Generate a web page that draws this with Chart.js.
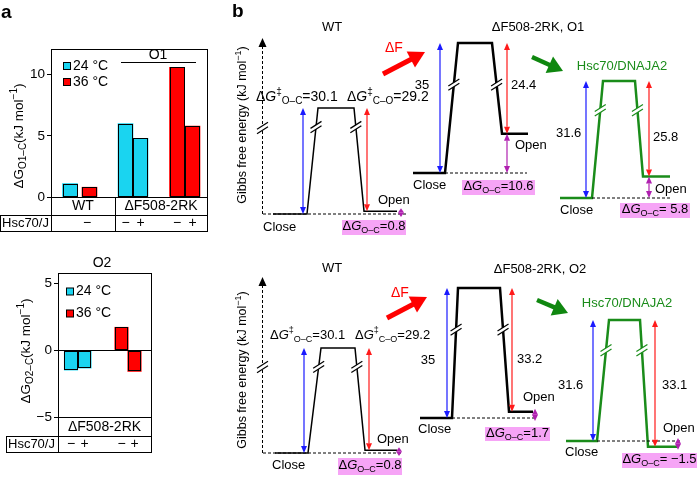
<!DOCTYPE html>
<html>
<head>
<meta charset="utf-8">
<script src="https://cdn.jsdelivr.net/npm/chart.js@4"></script>
<style>
  body { margin: 0; background: #fff; }
  #page { position: relative; width: 697px; height: 479px; overflow: hidden; }
  canvas { position: absolute; }
</style>
</head>
<body>
<div id="page">
  <canvas id="a1" width="215" height="250" style="left:0;top:0"></canvas>
  <canvas id="a2" width="215" height="229" style="left:0;top:250px"></canvas>
  <canvas id="b1" width="467" height="240" style="left:230px;top:0"></canvas>
  <canvas id="b2" width="467" height="239" style="left:230px;top:240px"></canvas>
</div>
<script>
// ---- panel a data (kJ/mol) ----
const tempLabels = ['24 °C', '36 °C'];
const groupsA = ['WT', 'ΔF508-2RK'];
const hscLabel = 'Hsc70/J';
const o1Cold = [1.1, 6.0, 4.8];    // WT, ΔF508-2RK −J, ΔF508-2RK +J
const o1Warm = [0.8, 10.6, 5.8];
const o1Hsc = ['−', '−', '+', '−', '+'];
const o1Ticks = [0, 5, 10];
const o2Cold = [-1.5, -1.35];      // ΔF508-2RK −J, +J
const o2Warm = [1.7, -1.6];
const o2Hsc = ['−', '+', '−', '+'];
const o2Ticks = [-5, 0, 5];

// ---- panel b data (kJ/mol) ----
const titlesO1 = ['WT', 'ΔF508-2RK, O1', 'Hsc70/DNAJA2'];
const titlesO2 = ['WT', 'ΔF508-2RK, O2', 'Hsc70/DNAJA2'];
const barrierOC_O1 = [30.1, 35, 31.6];
const barrierCO_O1 = [29.2, 24.4, 25.8];
const dG_O1 = [0.8, 10.6, 5.8];
const barrierOC_O2 = [30.1, 35, 31.6];
const barrierCO_O2 = [29.2, 33.2, 33.1];
const dG_O2 = [0.8, 1.7, -1.5];

const FONT = '"Liberation Sans", Arial, Helvetica, sans-serif';
const CYAN = '#1ad4f0', RED = '#ff0000', BLUE = '#1a1aff', ARED = '#ff1a1a';
const MAG = '#b020b0', BOXC = '#f6a4f6', GREEN = '#1a8c1a';

const fmt = v => v < 0 ? '−' + Math.abs(v) : String(v);

function txt(ctx, s, x, y, o = {}) {
  ctx.font = (o.bold ? 'bold ' : '') + (o.size || 13) + 'px ' + FONT;
  ctx.fillStyle = o.color || '#000';
  ctx.textAlign = o.align || 'left';
  ctx.textBaseline = 'middle';
  ctx.fillText(s, x, y);
}

function rich(ctx, parts, x, y, o = {}) {
  const size = o.size || 13, small = Math.round(size * 0.72);
  const fontOf = p => (p.i ? 'italic ' : '') + (p.sub || p.sup ? small : size) + 'px ' + FONT;
  const widths = parts.map(p => { ctx.font = fontOf(p); return ctx.measureText(p.t).width; });
  const total = widths.reduce((s, w) => s + w, 0);
  let cx = o.align === 'center' ? x - total / 2 : o.align === 'right' ? x - total : x;
  ctx.fillStyle = o.color || '#000';
  ctx.textAlign = 'left';
  ctx.textBaseline = 'middle';
  parts.forEach((p, j) => {
    ctx.font = fontOf(p);
    ctx.fillText(p.t, cx, y + (p.sub ? size * 0.32 : p.sup ? -size * 0.32 : 0));
    cx += widths[j];
  });
}

function rotRich(ctx, parts, x, y, size) {
  ctx.save();
  ctx.translate(x, y);
  ctx.rotate(-Math.PI / 2);
  rich(ctx, parts, 0, 0, { align: 'center', size });
  ctx.restore();
}

function seg(ctx, x1, y1, x2, y2) {
  ctx.beginPath(); ctx.moveTo(x1, y1); ctx.lineTo(x2, y2); ctx.stroke();
}

function vArrow(ctx, x, y1, y2, color) {
  let top = Math.min(y1, y2), bot = Math.max(y1, y2);
  if (bot - top < 8) { top -= 3; bot += 3; }
  const h = Math.min(7, (bot - top) / 2), w = 3;
  ctx.strokeStyle = color; ctx.fillStyle = color; ctx.lineWidth = 1.2; ctx.setLineDash([]);
  seg(ctx, x, top + h, x, bot - h);
  ctx.beginPath(); ctx.moveTo(x, top); ctx.lineTo(x - w, top + h); ctx.lineTo(x + w, top + h); ctx.fill();
  ctx.beginPath(); ctx.moveTo(x, bot); ctx.lineTo(x - w, bot - h); ctx.lineTo(x + w, bot - h); ctx.fill();
}

function blockArrow(ctx, x1, y1, x2, y2, color, lw, hl, hw) {
  const a = Math.atan2(y2 - y1, x2 - x1);
  const bx = x2 - hl * Math.cos(a), by = y2 - hl * Math.sin(a);
  ctx.strokeStyle = color; ctx.fillStyle = color; ctx.lineWidth = lw; ctx.setLineDash([]);
  seg(ctx, x1, y1, bx + Math.cos(a), by + Math.sin(a));
  ctx.beginPath();
  ctx.moveTo(x2, y2);
  ctx.lineTo(bx + hw * Math.sin(a), by - hw * Math.cos(a));
  ctx.lineTo(bx - hw * Math.sin(a), by + hw * Math.cos(a));
  ctx.closePath(); ctx.fill();
}

function breakMark(ctx, x, y, color) {
  const dx = 5.5, dy = 3.5, g = 2.2;
  ctx.setLineDash([]);
  ctx.fillStyle = '#fff';
  ctx.beginPath();
  ctx.moveTo(x - dx, y + dy - g); ctx.lineTo(x + dx, y - dy - g);
  ctx.lineTo(x + dx, y - dy + g); ctx.lineTo(x - dx, y + dy + g);
  ctx.closePath(); ctx.fill();
  ctx.strokeStyle = color; ctx.lineWidth = 1.2;
  [-g, g].forEach(o => seg(ctx, x - dx, y + dy + o, x + dx, y - dy + o));
}

const yTitleA = sub => [{ t: 'Δ' }, { t: 'G' }, { t: sub, sub: 1 }, { t: '(kJ mol' }, { t: '−1', sup: 1 }, { t: ')' }];
const dgLabel = (sub, v) => [{ t: 'Δ' }, { t: 'G', i: 1 }, { t: '‡', sup: 1 }, { t: sub, sub: 1 }, { t: '=' + fmt(v) }];
const dgBox = (v, sp) => [{ t: 'Δ' }, { t: 'G', i: 1 }, { t: 'O–C', sub: 1 }, { t: '=' + sp + fmt(v) }];

// ---------- panel a ----------
// outline every bar in black (uses the bar elements Chart.js laid out)
const barOutline = {
  id: 'barOutline',
  afterDatasetsDraw(c) {
    const ctx = c.ctx;
    ctx.save();
    ctx.strokeStyle = '#000'; ctx.lineWidth = 1;
    c.data.datasets.forEach((ds, i) => {
      c.getDatasetMeta(i).data.forEach(el => {
        const l = Math.round(el.x - el.width / 2) + 0.5, r = Math.round(el.x + el.width / 2) - 0.5;
        const t = Math.round(Math.min(el.y, el.base)) + 0.5, b = Math.round(Math.max(el.y, el.base)) - 0.5;
        ctx.strokeRect(l, t, r - l, b - t);
      });
    });
    ctx.restore();
  }
};

function barChart(id, cfg) {
  const bar = { borderWidth: 0, grouped: false, barThickness: cfg.bw };
  return new Chart(document.getElementById(id), {
    type: 'bar',
    data: {
      datasets: [
        { ...bar, label: tempLabels[0], data: cfg.cold.map((v, i) => ({ x: cfg.coldX[i], y: v })), backgroundColor: CYAN },
        { ...bar, label: tempLabels[1], data: cfg.warm.map((v, i) => ({ x: cfg.warmX[i], y: v })), backgroundColor: RED }
      ]
    },
    options: {
      responsive: false, animation: false, events: [],
      layout: { padding: cfg.pad },
      plugins: { legend: { display: false }, tooltip: { enabled: false } },
      scales: {
        x: { type: 'linear', min: 0, max: cfg.xMax, offset: false, display: false },
        y: {
          min: cfg.yMin, max: cfg.yMax,
          afterFit: s => { s.width = cfg.axisW; },
          afterBuildTicks: s => { s.ticks = cfg.ticks.map(v => ({ value: v })); },
          ticks: { color: '#000', font: { family: FONT, size: 13.5 }, padding: 2, callback: v => fmt(v) },
          grid: { drawOnChartArea: false, color: '#000', tickLength: 4 },
          border: { color: '#000' }
        }
      }
    },
    plugins: [barOutline, cfg.deco]
  });
}

function legendA(ctx, x, y1, y2) {
  ctx.lineWidth = 1; ctx.strokeStyle = '#000';
  [[y1, CYAN], [y2, RED]].forEach(([y, c], i) => {
    ctx.fillStyle = c; ctx.fillRect(x, y - 3.5, 7, 7); ctx.strokeRect(x + 0.5, y - 3.5, 7, 7);
    txt(ctx, tempLabels[i], x + 10, y, { size: 14 });
  });
}

barChart('a1', {
  cold: o1Cold, warm: o1Warm, coldX: [19, 74.5, 89.5], warmX: [38.5, 126, 141.5],
  xMax: 156, yMin: 0, yMax: 12.1, ticks: o1Ticks, axisW: 51, bw: 15,
  pad: { left: 0, right: 8, top: 49, bottom: 53 },
  deco: {
    id: 'decoA1',
    afterDraw(c) {
      const ctx = c.ctx, a = c.chartArea, xs = c.scales.x;
      ctx.save();
      ctx.strokeStyle = '#000'; ctx.lineWidth = 1;
      ctx.strokeRect(a.left + 0.5, a.top + 0.5, a.right - a.left, a.bottom - a.top);
      const r1 = 215.5, r2 = 231.5;
      seg(ctx, a.left + 0.5, a.bottom, a.left + 0.5, r2);
      seg(ctx, a.right + 0.5, a.bottom, a.right + 0.5, r2);
      seg(ctx, 115.5, a.bottom, 115.5, r2);
      seg(ctx, 0, r1, a.right + 1, r1);
      seg(ctx, 0, r2, a.right + 1, r2);
      seg(ctx, 0.5, r1, 0.5, r2);
      txt(ctx, 'a', 1, 13, { bold: true, size: 19 });
      txt(ctx, groupsA[0], 83, 206.5, { align: 'center', size: 14 });
      txt(ctx, groupsA[1], 161, 206.5, { align: 'center', size: 14 });
      txt(ctx, hscLabel, 2, 223.5, { size: 13 });
      const sx = [87, xs.getPixelForValue(74.5), xs.getPixelForValue(89.5), xs.getPixelForValue(126), xs.getPixelForValue(141.5)];
      o1Hsc.forEach((s, i) => txt(ctx, s, sx[i], 223.5, { align: 'center', size: 14 }));
      legendA(ctx, 63, 66, 82);
      seg(ctx, 121, 62.5, 196, 62.5);
      txt(ctx, 'O1', 158, 55, { align: 'center', size: 14 });
      rotRich(ctx, yTitleA('O1–C'), 19, 136, 13.5);
      ctx.restore();
    }
  }
});

barChart('a2', {
  cold: o2Cold, warm: o2Warm, coldX: [13, 26.5], warmX: [63.5, 76.5],
  xMax: 93, yMin: -5, yMax: 5.75, ticks: o2Ticks, axisW: 58, bw: 13.5,
  pad: { left: 0, right: 64, top: 23, bottom: 62 },
  deco: {
    id: 'decoA2',
    afterDraw(c) {
      const ctx = c.ctx, a = c.chartArea, xs = c.scales.x, oy = 250;
      ctx.save();
      ctx.translate(0, -oy);
      ctx.strokeStyle = '#000'; ctx.lineWidth = 1;
      const top = a.top + oy, bot = a.bottom + oy;
      ctx.strokeRect(a.left + 0.5, top + 0.5, a.right - a.left, bot - top);
      const zero = c.scales.y.getPixelForValue(0) + oy;
      seg(ctx, a.left, Math.round(zero) + 0.5, a.right, Math.round(zero) + 0.5);
      const r1 = 436.5, r2 = 452.5;
      seg(ctx, a.left + 0.5, bot, a.left + 0.5, r2);
      seg(ctx, a.right + 0.5, bot, a.right + 0.5, r2);
      seg(ctx, 6, r1, a.right + 1, r1);
      seg(ctx, 6, r2, a.right + 1, r2);
      seg(ctx, 6.5, r1, 6.5, r2);
      txt(ctx, groupsA[1], (a.left + a.right) / 2, 427, { align: 'center', size: 14 });
      txt(ctx, hscLabel, 8, 444.5, { size: 13 });
      const sx = [13, 26.5, 63.5, 76.5].map(v => xs.getPixelForValue(v));
      o2Hsc.forEach((s, i) => txt(ctx, s, sx[i], 444.5, { align: 'center', size: 14 }));
      legendA(ctx, 66, 291.5, 313.5);
      txt(ctx, 'O2', 102, 263, { align: 'center', size: 14 });
      rotRich(ctx, yTitleA('O2–C'), 26, 351, 13.5);
      ctx.restore();
    }
  }
});

// ---------- panel b ----------
const rowO1 = {
  top: 0, H: 240, letter: true, labelSize: 14,
  axis: { x: 262, y0: 214, tip: 38, brk: 128 }, ytitle: { x: 243, y: 125 },
  dF: { x1: 383, y1: 74, x2: 425, y2: 52, tx: 385, ty: 48 },
  green: { x1: 532, y1: 57, x2: 563, y2: 71 },
  diagrams: [
    { xs: [273, 307, 318, 354, 364, 397], base: 214, peak: 108, dash: [263, 407], blue: 303, red: 367, mag: 401,
      lw: 1.5, color: '#000', brk: 0.82, title: { x: 332, y: 27 }, oc: { x: 256, y: 97 }, co: { x: 347, y: 97 },
      rich: true, open: { x: 378, dy: -11 }, close: { x: 263, y: 227 }, box: [342, 406, 220, 235], sp: '' },
    { xs: [413, 445, 458, 492, 502, 528], base: 173, peak: 43, dash: [445, 527], blue: 440, red: 507, mag: 507,
      lw: 2.5, color: '#000', brk: 0.68, title: { x: 538, y: 27 }, oc: { x: 422, y: 85, align: 'center' }, co: { x: 511, y: 85 },
      open: { x: 515, dy: 12 }, close: { x: 413, y: 185 }, box: [462, 535, 180, 195], sp: '' },
    { xs: [560, 592, 603, 635, 643, 670], base: 198, peak: 81, dash: [592, 670], blue: 586, red: 649, mag: 649,
      lw: 2.5, color: GREEN, brk: 0.75, title: { x: 622, y: 66 }, oc: { x: 556, y: 133 }, co: { x: 653, y: 137 },
      open: { x: 655, dy: 13 }, close: { x: 560, y: 210 }, box: [620, 690, 203, 218], sp: ' ' }
  ]
};
const rowO2 = {
  top: 240, H: 239, letter: false, labelSize: 13,
  axis: { x: 262, y0: 453, tip: 277, brk: 367 }, ytitle: { x: 243, y: 370 },
  dF: { x1: 387, y1: 318, x2: 427, y2: 297, tx: 391, ty: 293 },
  green: { x1: 537, y1: 300, x2: 568, y2: 313 },
  diagrams: [
    { xs: [275, 308, 321, 355, 365, 397], base: 453, peak: 348, dash: [263, 403], blue: 304, red: 369, mag: 399,
      lw: 1.5, color: '#000', brk: 0.82, title: { x: 332, y: 268 }, oc: { x: 270, y: 335 }, co: { x: 355, y: 335 },
      rich: true, open: { x: 377, dy: -11 }, close: { x: 272, y: 465 }, box: [338, 402, 458, 475], sp: '' },
    { xs: [420, 452, 458, 500, 509, 533], base: 418, peak: 288, dash: [452, 535], blue: 447, red: 512, mag: 535,
      lw: 2.5, color: '#000', brk: 0.68, title: { x: 540, y: 269 }, oc: { x: 428, y: 360, align: 'center' }, co: { x: 517, y: 359 },
      open: { x: 523, dy: -14 }, close: { x: 418, y: 429 }, box: [485, 550, 427, 441], sp: '' },
    { xs: [566, 597, 609, 640, 648, 677], base: 441, peak: 320, dash: [597, 682], blue: 593, red: 655, mag: 678,
      lw: 2.5, color: GREEN, brk: 0.75, title: { x: 627, y: 303 }, oc: { x: 558, y: 385 }, co: { x: 662, y: 385 },
      open: { x: 663, dy: -18 }, close: { x: 565, y: 452 }, box: [622, 697, 453, 468], sp: ' ' }
  ]
};

const lerp = (a, b, t) => a + (b - a) * t;

function rowChart(id, L, titles, BOC, BCO, DG) {
  const datasets = [];
  const scales = { x: { type: 'linear', min: 230, max: 697, display: false } };
  const line = { showLine: true, pointRadius: 0, clip: false, tension: 0, fill: false };
  L.diagrams.forEach((d, i) => {
    const k = (d.base - d.peak) / BOC[i];
    const max = (d.base - L.top) / k;
    scales['y' + i] = { type: 'linear', min: max - L.H / k, max, display: false };
    const ys = [0, 0, BOC[i], BOC[i], DG[i], DG[i]];
    datasets.push({ ...line, data: d.dash.map(x => ({ x, y: 0 })), borderColor: '#000', borderWidth: 1, borderDash: [3, 2], yAxisID: 'y' + i });
    datasets.push({ ...line, data: d.xs.map((x, j) => ({ x, y: ys[j] })), borderColor: d.color, borderWidth: d.lw, yAxisID: 'y' + i });
  });

  const deco = {
    id: 'deco' + id,
    afterDraw(c) {
      const ctx = c.ctx;
      ctx.save();
      ctx.translate(-230, -L.top);
      // energy axis
      const ax = L.axis;
      ctx.strokeStyle = '#000'; ctx.lineWidth = 1; ctx.setLineDash([3, 2]);
      seg(ctx, ax.x + 0.5, ax.y0, ax.x + 0.5, ax.tip + 7);
      ctx.setLineDash([]); ctx.fillStyle = '#000';
      ctx.beginPath(); ctx.moveTo(ax.x + 0.5, ax.tip); ctx.lineTo(ax.x - 3.5, ax.tip + 9); ctx.lineTo(ax.x + 4.5, ax.tip + 9); ctx.fill();
      breakMark(ctx, ax.x + 0.5, ax.brk, '#000');
      rotRich(ctx, [{ t: 'Gibbs free energy (kJ mol' }, { t: '−1', sup: 1 }, { t: ')' }], L.ytitle.x, L.ytitle.y, 12.5);
      if (L.letter) txt(ctx, 'b', 232, 12, { bold: true, size: 19 });
      // transitions
      blockArrow(ctx, L.dF.x1, L.dF.y1, L.dF.x2, L.dF.y2, '#ff0000', 5, 16, 9);
      txt(ctx, 'ΔF', L.dF.tx, L.dF.ty, { color: '#ff0000', size: 14 });
      blockArrow(ctx, L.green.x1, L.green.y1, L.green.x2, L.green.y2, '#0f870f', 4.5, 15, 9);

      L.diagrams.forEach((d, i) => {
        const sc = c.scales['y' + i];
        const py = v => sc.getPixelForValue(v) + L.top;
        const y0 = py(0), yT = py(BOC[i]), yO = py(DG[i]);
        // axis breaks on the barrier
        const yb = lerp(y0, yT, d.brk);
        breakMark(ctx, lerp(d.xs[1], d.xs[2], (yb - y0) / (yT - y0)), yb, d.color);
        breakMark(ctx, lerp(d.xs[3], d.xs[4], (yb - yT) / (yO - yT)), yb, d.color);
        // energy arrows
        vArrow(ctx, d.blue, y0, yT, BLUE);
        vArrow(ctx, d.red, yO, yT, ARED);
        vArrow(ctx, d.mag, y0, yO, MAG);
        // labels
        const tc = i === 2 ? GREEN : '#000';
        txt(ctx, titles[i], d.title.x, d.title.y, { align: 'center', size: 13, color: tc });
        if (d.rich) {
          rich(ctx, dgLabel('O–C', BOC[i]), d.oc.x, d.oc.y, { size: L.labelSize });
          rich(ctx, dgLabel('C–O', BCO[i]), d.co.x, d.co.y, { size: L.labelSize });
        } else {
          txt(ctx, fmt(BOC[i]), d.oc.x, d.oc.y, { align: d.oc.align || 'left', size: 13 });
          txt(ctx, fmt(BCO[i]), d.co.x, d.co.y, { size: 13 });
        }
        txt(ctx, 'Open', d.open.x, yO + d.open.dy, { size: 13 });
        txt(ctx, 'Close', d.close.x, d.close.y, { size: 13 });
        const b = d.box;
        ctx.fillStyle = BOXC;
        ctx.fillRect(b[0], b[2], b[1] - b[0], b[3] - b[2]);
        rich(ctx, dgBox(DG[i], d.sp), (b[0] + b[1]) / 2, (b[2] + b[3]) / 2 - 1, { align: 'center', size: 13 });
      });
      ctx.restore();
    }
  };

  return new Chart(document.getElementById(id), {
    type: 'scatter',
    data: { datasets },
    options: {
      responsive: false, animation: false, events: [],
      layout: { padding: 0 },
      plugins: { legend: { display: false }, tooltip: { enabled: false } },
      scales
    },
    plugins: [deco]
  });
}

rowChart('b1', rowO1, titlesO1, barrierOC_O1, barrierCO_O1, dG_O1);
rowChart('b2', rowO2, titlesO2, barrierOC_O2, barrierCO_O2, dG_O2);
</script>
</body>
</html>
